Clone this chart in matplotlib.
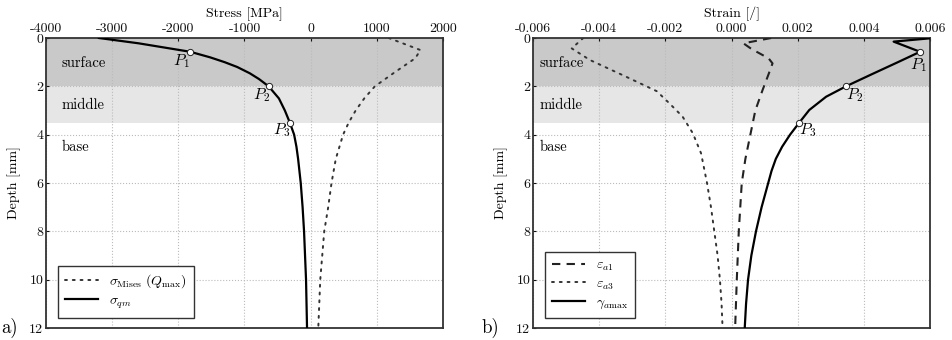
import matplotlib
matplotlib.use("Agg")
import matplotlib.pyplot as plt
from matplotlib.ticker import FuncFormatter

plt.rcParams.update({"font.family": ["cmr10", "DejaVu Serif"], "mathtext.fontset": "cm",
                     "axes.unicode_minus": False, "font.size": 10})

# ── a) stress profiles ──────────────────────────────────────────────
depth_qm = [0, 0.22, 0.57, 0.8, 1.0, 1.2, 1.46, 1.7, 2.0, 2.5, 3.0, 3.5, 4.0, 4.5, 5.0, 6.0, 7.0,
            8.0, 10.0, 12.0]
sigma_qm = [-3200, -2600, -1820, -1520, -1300, -1110, -920, -780, -635, -480, -390, -315, -250,
            -215, -190, -150, -122, -100, -70, -55]
depth_mises = [0, 0.5, 0.84, 1.4, 2.0, 2.5, 3.0, 3.5, 4.0, 5.0, 6.0, 7.0, 8.0, 10.0, 12.0]
sigma_mises = [1180, 1660, 1580, 1280, 970, 810, 680, 575, 490, 380, 315, 265, 205, 145, 115]
p_depth = [0.57, 2.0, 3.5]
p_stress = [-1820, -635, -315]

# ── b) strain profiles ──────────────────────────────────────────────
depth_a1 = [0, 0.22, 0.45, 0.84, 1.05, 1.5, 2.15, 3.0, 4.0, 5.0, 6.0, 8.0, 10.0, 12.0]
eps_a1 = [0.0012, 0.00036, 0.0006, 0.00112, 0.00124, 0.00112, 0.00094, 0.00072, 0.00057,
          0.00042, 0.00031, 0.00022, 0.00016, 0.00011]
depth_a3 = [0, 0.43, 0.91, 1.6, 2.2, 2.7, 3.25, 3.94, 4.77, 6.0, 7.0, 8.0, 9.0, 10.0, 11.0, 12.0]
eps_a3 = [-0.00448, -0.00483, -0.00428, -0.00319, -0.00226, -0.00188, -0.00148, -0.00117,
          -0.00092, -0.00074, -0.00062, -0.00052, -0.00042, -0.00035, -0.0003, -0.00027]
depth_g = [0, 0.15, 0.57, 1.0, 1.5, 2.0, 2.43, 2.98, 3.5, 4.0, 4.5, 5.0, 5.5, 6.0, 7.0, 8.0, 9.0,
           10.0, 11.0, 12.0]
gamma = [0.0061, 0.0049, 0.0057, 0.00503, 0.00424, 0.00346, 0.00286, 0.00235, 0.00205, 0.00177,
         0.00153, 0.00134, 0.00121, 0.00111, 0.00091, 0.00074, 0.0006, 0.0005, 0.00044, 0.0004]
p_strain = [0.0057, 0.00346, 0.00205]

zones = [("surface", 0, 2.0, "#c9c9c9", 1.05), ("middle", 2.0, 3.5, "#e6e6e6", 2.78),
         ("base", 3.5, 12, "white", 4.5)]

fig = plt.figure(figsize=(9.52, 3.4), dpi=100)
axa = fig.add_axes([46 / 952, 12 / 340, 397 / 952, 290 / 340])
axb = fig.add_axes([533 / 952, 12 / 340, 397 / 952, 290 / 340])


def setup(ax, xlim, xticks, fmt, xlabel, label_x):
    ax.set_xlim(*xlim)
    ax.set_ylim(12, 0)
    ax.set_xticks(xticks)
    ax.set_yticks(range(0, 13, 2))
    ax.xaxis.set_major_formatter(FuncFormatter(fmt))
    ax.xaxis.tick_top()
    ax.xaxis.set_label_position("top")
    ax.set_xlabel(xlabel, labelpad=4)
    ax.set_ylabel("Depth [mm]", labelpad=6)
    ax.tick_params(direction="in", length=2.5, pad=2, colors="#111111")
    ax.grid(True, ls=":", color="#bbbbbb", lw=0.8)
    ax.set_axisbelow(True)
    for s in ax.spines.values():
        s.set_linewidth(1.3)
        s.set_color("#333333")
    for name, y0, y1, col, ty in zones:
        ax.axhspan(y0, y1, color=col, zorder=0.5, lw=0)
        ax.text(label_x, ty, name, fontsize=10.5, va="center", ha="left", zorder=3)


def plabels(ax, xs, ys, offs):
    ax.plot(xs, ys, "o", ms=4.5, mfc="white", mec="#222222", mew=0.7, zorder=5)
    for i, (x, y, off) in enumerate(zip(xs, ys, offs)):
        ax.annotate(f"$P_{i + 1}$", (x, y), xytext=off, textcoords="offset points",
                    ha="center", va="center", fontsize=11.5, zorder=6)


setup(axa, (-4000, 2000), range(-4000, 2001, 1000), lambda v, p: f"{v:.0f}".replace("\u2212", "-"),
      "Stress [MPa]", -3770)
axa.plot(sigma_mises, depth_mises, color="#333333", lw=1.4, ls=(0, (1, 3)), dash_capstyle="round",
         label=r"$\sigma_{\rm Mises}\ (Q_{\rm max})$", zorder=4)
axa.plot(sigma_qm, depth_qm, color="black", lw=1.6, label=r"$\sigma_{qm}$", zorder=4)
plabels(axa, p_stress, p_depth, [(-6.5, -6.8), (-5.3, -6.0), (-5.8, -5.8)])
axa.legend(loc="lower left", bbox_to_anchor=(0.012, 0.012), fontsize=10, frameon=True, fancybox=False,
           edgecolor="#333333", framealpha=1, handlelength=2.4, borderpad=0.5, labelspacing=0.3)

setup(axb, (-0.006, 0.006), [-0.006, -0.004, -0.002, 0, 0.002, 0.004, 0.006],
      lambda v, p: f"{v:.3f}".replace("\u2212", "-"), "Strain [/]", -0.0058)
axb.plot(eps_a1, depth_a1, color="#222222", lw=1.5, ls=(0, (4, 3)), label=r"$\varepsilon_{a1}$", zorder=4)
axb.plot(eps_a3, depth_a3, color="#333333", lw=1.4, ls=(0, (1, 3)), dash_capstyle="round",
         label=r"$\varepsilon_{a3}$", zorder=4)
axb.plot(gamma, depth_g, color="black", lw=1.6, label=r"$\gamma_{a\mathrm{max}}$", zorder=4)
plabels(axb, p_strain, p_depth, [(-1.0, -9.4), (6.0, -6.6), (6.3, -5.6)])
axb.legend(loc="lower left", bbox_to_anchor=(0.012, 0.012), fontsize=10, frameon=True, fancybox=False,
           edgecolor="#333333", framealpha=1, handlelength=2.4, borderpad=0.5, labelspacing=0.3)

fig.text(1 / 952, 12 / 340, "a)", fontsize=13.5, va="center", ha="left")
fig.text(481 / 952, 12 / 340, "b)", fontsize=13.5, va="center", ha="left")

fig.savefig("out.png", dpi=100)
